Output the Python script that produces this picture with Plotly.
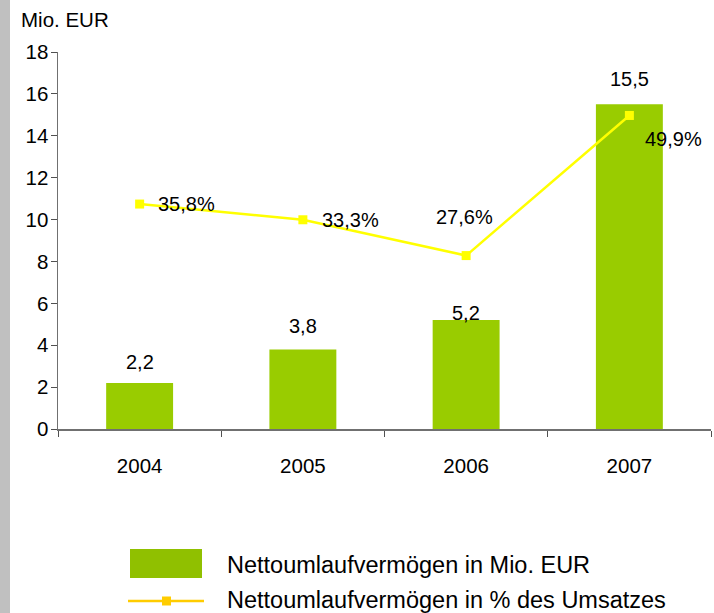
import plotly.graph_objects as go

years = ["2004", "2005", "2006", "2007"]
net_wc_mio = [2.2, 3.8, 5.2, 15.5]
net_wc_pct = [35.8, 33.3, 27.6, 49.9]
bar_labels = ["2,2", "3,8", "5,2", "15,5"]
pct_labels = ["35,8%", "33,3%", "27,6%", "49,9%"]
y_ticks = [0, 2, 4, 6, 8, 10, 12, 14, 16, 18]

W, H = 714, 613
L, R, T, B = 58, 3, 52, 184
PW, PH = W - L - R, H - T - B
FONT = "Liberation Sans, Arial, sans-serif"
BAR_COLOR = "#99CC00"
LINE_COLOR = "#FFFF00"


def px(x):
    return (x - L) / PW


def py(y):
    return (H - B - y) / PH


fig = go.Figure()
fig.add_trace(go.Bar(
    x=years, y=net_wc_mio, marker=dict(color=BAR_COLOR, line=dict(width=0)),
    width=0.41, name="Nettoumlaufvermögen in Mio. EUR", showlegend=False,
))
fig.add_trace(go.Scatter(
    x=years, y=net_wc_pct, yaxis="y2", mode="lines+markers",
    line=dict(color=LINE_COLOR, width=2.5),
    marker=dict(symbol="square", size=9, color=LINE_COLOR),
    name="Nettoumlaufvermögen in % des Umsatzes", showlegend=False,
))

annotations = []
# bar value labels (x given as category index)
bar_shift = [21, 23, 7, 25]
for i, (v, lab, s) in enumerate(zip(net_wc_mio, bar_labels, bar_shift)):
    annotations.append(dict(x=i, y=v, xref="x", yref="y", text=lab, showarrow=False,
                            xanchor="center", yanchor="middle", yshift=s,
                            font=dict(family=FONT, size=20, color="#000000")))
# line value labels
pct_style = [("left", 16, 0), ("left", 17, 0), ("center", -2, 39), ("left", 14, -24)]
for i, (v, lab, (anc, xs, ys)) in enumerate(zip(net_wc_pct, pct_labels, pct_style)):
    annotations.append(dict(x=i, y=v, xref="x", yref="y2", text=lab, showarrow=False,
                            xanchor=anc, yanchor="middle", xshift=xs, yshift=ys,
                            font=dict(family=FONT, size=20, color="#000000")))
# axis unit
annotations.append(dict(x=px(19), y=py(19), xref="paper", yref="paper", text="Mio. EUR",
                        showarrow=False, xanchor="left", yanchor="middle",
                        font=dict(family=FONT, size=20.5, color="#000000")))
# legend texts
annotations.append(dict(x=px(225), y=py(565), xref="paper", yref="paper",
                        text="Nettoumlaufvermögen in Mio. EUR", showarrow=False,
                        xanchor="left", yanchor="middle",
                        font=dict(family=FONT, size=23.5, color="#000000")))
annotations.append(dict(x=px(225), y=py(600), xref="paper", yref="paper",
                        text="Nettoumlaufvermögen in % des Umsatzes", showarrow=False,
                        xanchor="left", yanchor="middle",
                        font=dict(family=FONT, size=23.5, color="#000000")))

shapes = [
    # gray strip on the left
    dict(type="rect", xref="paper", yref="paper", x0=px(0), x1=px(10), y0=py(H), y1=py(0),
         fillcolor="#C0C0C0", line=dict(width=0), layer="below"),
    # legend bar swatch
    dict(type="rect", xref="paper", yref="paper", x0=px(130), x1=px(202), y0=py(578), y1=py(549),
         fillcolor="#90C000", line=dict(width=0)),
    # legend line swatch
    dict(type="line", xref="paper", yref="paper", x0=px(128), x1=px(204), y0=py(601), y1=py(601),
         line=dict(color="#FFCC00", width=2.5)),
    dict(type="rect", xref="paper", yref="paper", x0=px(162), x1=px(171), y0=py(605.5), y1=py(596.5),
         fillcolor="#FFCC00", line=dict(width=0)),
]

fig.update_layout(
    width=W, height=H,
    margin=dict(l=L, r=R, t=T, b=B, pad=0),
    paper_bgcolor="#FFFFFF", plot_bgcolor="#FFFFFF",
    font=dict(family=FONT, size=20, color="#000000"),
    hovermode=False,
    xaxis=dict(type="category", categoryorder="array", categoryarray=years,
               range=[-0.5, 3.5], autorange=False,
               showgrid=False, showline=True, linecolor="#707070", linewidth=1.5,
               ticks="outside", tickson="boundaries", ticklen=6, tickcolor="#505050",
               tickfont=dict(family=FONT, size=20.5, color="#000000"), ticklabelstandoff=18,
               tickangle=0, zeroline=False),
    yaxis=dict(range=[0, 18], tickvals=y_ticks, ticktext=[str(t) for t in y_ticks],
               showgrid=False, showline=True, linecolor="#707070", linewidth=1.5,
               ticks="outside", ticklen=6, tickcolor="#505050",
               tickfont=dict(family=FONT, size=20.5, color="#000000"), ticklabelstandoff=-2,
               zeroline=False),
    yaxis2=dict(range=[0, 60], overlaying="y", visible=False),
    annotations=annotations,
    shapes=shapes,
    showlegend=False,
)

fig.write_html(
    "out.html",
    config={"displayModeBar": False, "staticPlot": True},
    post_script="document.body.style.margin='0';document.body.style.overflow='hidden';",
)
